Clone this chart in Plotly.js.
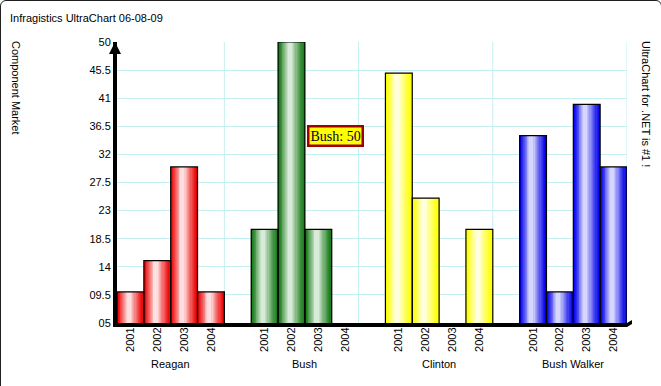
<!DOCTYPE html>
<html>
<head>
<meta charset="utf-8">
<script src="https://cdn.plot.ly/plotly-3.0.1.min.js"></script>
<style>
  html, body { margin: 0; padding: 0; background: #ffffff; overflow: hidden; }
  #chart { width: 661px; height: 386px; }
  #frame { position: absolute; left: 0; top: 0; width: 660px; height: 400px;
           border: 1px solid #202020; border-radius: 6px; pointer-events: none; }
</style>
</head>
<body>
<div id="chart"></div>
<div id="frame"></div>
<script>
// ---- data ----
var candidates = ['Reagan', 'Bush', 'Clinton', 'Bush Walker'];
var years = ['2001', '2002', '2003', '2004'];
var reagan = [10, 15, 30, 10];
var bush = [20, 50, 20, null];
var clinton = [45, 25, null, 20];
var bushWalker = [35, 10, 40, 30];
var yTickVals = [5, 9.5, 14, 18.5, 23, 27.5, 32, 36.5, 41, 45.5, 50];
var yTickText = ['05', '09.5', '14', '18.5', '23', '27.5', '32', '36.5', '41', '45.5', '50'];
var chartTitle = 'Infragistics UltraChart 06-08-09';
var yTitle = 'Component Market';
var rightTitle = 'UltraChart for .NET is #1 !';

// ---- styling ----
var baseColors = [[235, 0, 0], [20, 120, 20], [255, 255, 0], [0, 0, 235]];
var lightColors = [[255, 248, 248], [238, 248, 238], [255, 255, 245], [238, 238, 255]];
var FONT = 'Liberation Sans, Arial, sans-serif';

var series = [reagan, bush, clinton, bushWalker];
var slot = years.length + 1;
var xs = [], ys = [], gIdx = [], tickVals = [], tickText = [];
series.forEach(function (vals, g) {
  vals.forEach(function (v, i) {
    xs.push(g * slot + i); ys.push(v); gIdx.push(g);
    tickVals.push(g * slot + i); tickText.push(years[i]);
  });
});
var nSlots = series.length * slot - 1;

function lerp(a, b, t) {
  return 'rgb(' + a.map(function (c, j) { return Math.round(c + (b[j] - c) * t); }).join(',') + ')';
}

var traces = [];
var N = 12;
for (var k = 0; k < N; k++) {
  var t = k / N;
  var w = 1 - t * 0.92;
  var shift = -0.07 * t;
  traces.push({
    type: 'bar', x: xs, y: ys, width: w, offset: -w / 2 + shift,
    marker: { color: gIdx.map(function (g) { return lerp(baseColors[g], lightColors[g], Math.pow(t, 1.2)); }),
              line: { width: 0 } },
    hoverinfo: 'skip', showlegend: false
  });
}
traces.push({
  type: 'bar', x: xs, y: ys, width: 1,
  marker: { color: 'rgba(0,0,0,0)', line: { color: '#000000', width: 1.2 } },
  hoverinfo: 'x+y', showlegend: false
});

var shapes = [];
for (var g = 0; g < series.length; g++) {
  shapes.push({ type: 'line', layer: 'below', xref: 'x', yref: 'paper',
    x0: g * slot + years.length - 0.5, x1: g * slot + years.length - 0.5, y0: 0, y1: 1,
    line: { color: '#c4f0f2', width: 1 } });
}
// small 3D tip at the right end of the x-axis floor
function px(x) { return (x - 117) / 510; }
function py(y) { return (323 - y) / 281; }
shapes.push({ type: 'path', xref: 'paper', yref: 'paper', layer: 'above',
  path: 'M ' + px(627) + ' ' + py(323) + ' L ' + px(632) + ' ' + py(320) + ' L ' + px(632) + ' ' + py(324) +
        ' L ' + px(627) + ' ' + py(327) + ' Z',
  fillcolor: '#000', line: { width: 0 } });

var annotations = [];
candidates.forEach(function (c, g) {
  annotations.push({ text: c, xref: 'x', yref: 'paper', x: g * slot + (years.length - 1) / 2,
    y: -0.146, yanchor: 'middle', showarrow: false, font: { family: FONT, size: 11, color: '#000' } });
});
annotations.push({ text: yTitle, textangle: 90, xref: 'paper', yref: 'paper',
  x: (16 - 117) / 510, y: (323 - 39) / 281, xanchor: 'center', yanchor: 'top', showarrow: false,
  font: { family: FONT, size: 11, color: '#000' } });
annotations.push({ text: rightTitle, textangle: 90, xref: 'paper', yref: 'paper',
  x: (646 - 117) / 510, y: (323 - 39) / 281, xanchor: 'center', yanchor: 'top', showarrow: false,
  font: { family: FONT, size: 11, color: '#000' } });
// peak label
var peakVal = Math.max.apply(null, bush.filter(function (v) { return v != null; }));
var peakIdx = bush.indexOf(peakVal);
annotations.push({ text: candidates[1] + ': ' + peakVal, xref: 'x', yref: 'y',
  x: 1 * slot + peakIdx + 0.5, y: 35, xanchor: 'left', yanchor: 'middle', xshift: 2,
  showarrow: false, bgcolor: '#ffff00', bordercolor: '#a00000', borderwidth: 2.5, borderpad: 1,
  font: { family: 'Liberation Serif, Times New Roman, serif', size: 14, color: '#000033' } });
// y-axis arrow head
annotations.push({ xref: 'paper', yref: 'paper', x: 0, y: 1, xshift: -2, ax: 0, ay: 10,
  text: '', showarrow: true, arrowhead: 2, arrowsize: 0.8, arrowwidth: 3, arrowcolor: '#000' });

var layout = {
  width: 661, height: 386,
  margin: { l: 117, r: 34, t: 42, b: 63, pad: 0 },
  paper_bgcolor: '#ffffff', plot_bgcolor: '#ffffff',
  barmode: 'overlay', bargap: 0,
  font: { family: FONT, size: 11, color: '#000' },
  title: { text: chartTitle, xref: 'container', yref: 'container', x: 10 / 661, xanchor: 'left',
           y: 1 - 18 / 386, yanchor: 'middle', font: { family: FONT, size: 11, color: '#000' } },
  xaxis: { range: [-0.5, nSlots - 0.5], tickmode: 'array', tickvals: tickVals, ticktext: tickText,
           tickangle: -90, showgrid: false, zeroline: false, showline: true, linecolor: '#000',
           linewidth: 4, ticks: '', ticklabelstandoff: -4,
           tickfont: { family: FONT, size: 11, color: '#000' }, fixedrange: true },
  yaxis: { range: [5, 50], tickmode: 'array', tickvals: yTickVals, ticktext: yTickText,
           showgrid: true, gridcolor: '#c4f0f2', gridwidth: 1, zeroline: false, showline: true,
           linecolor: '#000', linewidth: 4, ticks: '', ticklabelstandoff: 0,
           tickfont: { family: FONT, size: 11, color: '#000' }, fixedrange: true },
  shapes: shapes,
  annotations: annotations
};

Plotly.newPlot('chart', traces, layout, { displayModeBar: false, staticPlot: true });
</script>
</body>
</html>
